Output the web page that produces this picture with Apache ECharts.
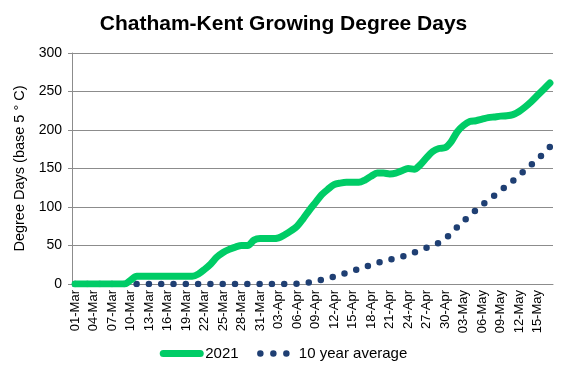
<!DOCTYPE html>
<html>
<head>
<meta charset="utf-8">
<script src="https://cdn.jsdelivr.net/npm/echarts@6/dist/echarts.min.js"></script>
<style>html,body{margin:0;padding:0;background:#fff}#c{width:567px;height:378px}</style>
</head>
<body>
<div id="c"></div>
<script>
const dates = [
 '01-Mar','02-Mar','03-Mar','04-Mar','05-Mar','06-Mar','07-Mar','08-Mar','09-Mar','10-Mar',
 '11-Mar','12-Mar','13-Mar','14-Mar','15-Mar','16-Mar','17-Mar','18-Mar','19-Mar','20-Mar',
 '21-Mar','22-Mar','23-Mar','24-Mar','25-Mar','26-Mar','27-Mar','28-Mar','29-Mar','30-Mar',
 '31-Mar','01-Apr','02-Apr','03-Apr','04-Apr','05-Apr','06-Apr','07-Apr','08-Apr','09-Apr',
 '10-Apr','11-Apr','12-Apr','13-Apr','14-Apr','15-Apr','16-Apr','17-Apr','18-Apr','19-Apr',
 '20-Apr','21-Apr','22-Apr','23-Apr','24-Apr','25-Apr','26-Apr','27-Apr','28-Apr','29-Apr',
 '30-Apr','01-May','02-May','03-May','04-May','05-May','06-May','07-May','08-May','09-May',
 '10-May','11-May','12-May','13-May','14-May','15-May','16-May','17-May'
];
const gdd2021 = [
 0,0,0,0,0,0,0,0,0,5,
 10,10,10,10,10,10,10,10,10,10,
 13,19,26,35,41,45,48,50,50,57,
 59,59,59,60,64,69,75,85,96,106,
 116,123,129,131,132,132,132,135,140,144,
 144,143,144,147,150,149,155,164,172,176,
 177,185,198,206,211,212,214,216,217,218,
 218.5,220,224,230,237,245,253,261
];
const avg10yr = [
 0,0,0,0,0,0,0,0,0,0,
 0,0,0,0,0,0,0,0,0,0,
 0,0,0,0,0,0,0,0,0,0,
 0,0,0,0,0,0,0.5,1,2,3.5,
 5.5,7.5,9.5,12,14.5,17,19.5,22,24.8,27.3,
 29.8,31.5,33.3,35.5,38,41,44.5,47,50,53.5,
 58.5,66,74,81.5,89,96,102.5,109,115,121,
 128,134,141,148,155,162,170,178
];
const yTicks = [0, 50, 100, 150, 200, 250, 300];

const green = '#00cc66';
const navy = '#1f3f73';
const chart = echarts.init(document.getElementById('c'), null, {renderer: 'canvas'});
const txt = '#000';
chart.setOption({
  animation: false,
  title: {
    text: 'Chatham-Kent Growing Degree Days',
    left: 'center', top: 9,
    textStyle: {fontFamily: 'Liberation Sans, Arial', fontSize: 21, fontWeight: 'bold', color: '#000'}
  },
  legend: {
    bottom: 12, left: 'center',
    itemWidth: 37, itemHeight: 14, itemGap: 15,
    itemStyle: {opacity: 0},
    textStyle: {fontFamily: 'Liberation Sans, Arial', fontSize: 15, color: '#000'},
    data: [
      {name: '2021', lineStyle: {color: green, width: 7, cap: 'round'}},
      {name: '10 year average', lineStyle: {color: navy, width: 6.5, type: [0, 13], dashOffset: 9.5, cap: 'round'}}
    ]
  },
  grid: {left: 72, right: 14, top: 53, bottom: 94},
  xAxis: {
    type: 'category', data: dates, boundaryGap: true,
    axisLine: {lineStyle: {color: '#8c8c8c', width: 1}},
    axisTick: {interval: 0, length: 5, lineStyle: {color: '#8c8c8c'}},
    axisLabel: {interval: 2, rotate: 90, margin: 6, fontFamily: 'Liberation Sans, Arial', fontSize: 13, color: txt}
  },
  yAxis: {
    type: 'value', min: yTicks[0], max: yTicks[yTicks.length - 1], interval: 50,
    name: 'Degree Days (base 5 ° C)', nameLocation: 'middle', nameGap: 42, nameRotate: 90,
    nameTextStyle: {fontFamily: 'Liberation Sans, Arial', fontSize: 14.5, color: txt},
    axisLine: {show: true, lineStyle: {color: '#8c8c8c'}},
    axisTick: {show: true, length: 4, lineStyle: {color: '#8c8c8c'}},
    axisLabel: {margin: 10, fontFamily: 'Liberation Sans, Arial', fontSize: 14, color: txt},
    splitLine: {lineStyle: {color: '#8c8c8c', width: 1}}
  },
  series: [
    {
      name: '2021', type: 'line', data: gdd2021, smooth: 0.3, symbol: 'none',
      lineStyle: {color: green, width: 7, cap: 'round', join: 'round'},
      itemStyle: {color: green}, z: 3
    },
    {
      name: '10 year average', type: 'line', data: avg10yr, smooth: 0.3, symbol: 'none',
      lineStyle: {color: navy, width: 6.5, type: [0, 12.3], dashOffset: 0, cap: 'round'},
      itemStyle: {color: navy}, z: 2
    }
  ]
});
</script>
</body>
</html>
